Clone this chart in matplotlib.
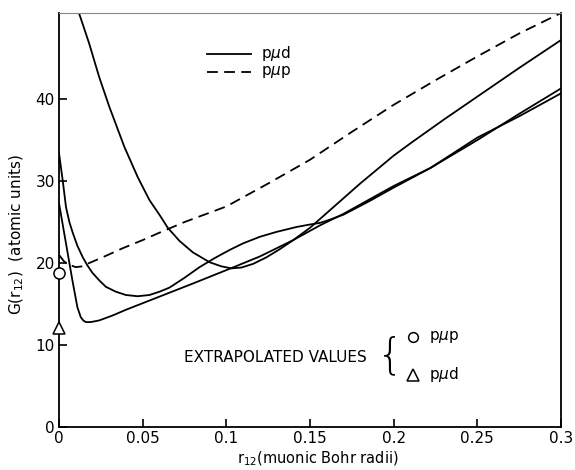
import matplotlib
matplotlib.use("Agg")
import matplotlib.pyplot as plt

# pmu p (dashed)
pmp_x = [0.0, 0.003, 0.006, 0.010, 0.014, 0.018, 0.025, 0.038, 0.05, 0.06, 0.075, 0.1, 0.125, 0.15, 0.175, 0.2, 0.225, 0.25, 0.275, 0.3]
pmp_y = [21.0, 20.2, 19.8, 19.5, 19.6, 20.0, 20.6, 21.8, 22.8, 23.7, 25.0, 26.9, 29.7, 32.6, 36.0, 39.3, 42.3, 45.2, 48.0, 50.5]

# pmu d curve A (enters from top)
a_x = [0.0121, 0.018, 0.024, 0.030, 0.039, 0.047, 0.054, 0.060, 0.065, 0.072, 0.080, 0.090, 0.097, 0.103, 0.109, 0.116, 0.124, 0.132, 0.140, 0.150, 0.160, 0.170, 0.180, 0.190, 0.200, 0.210, 0.230, 0.250, 0.275, 0.3]
a_y = [50.4, 46.8, 42.7, 39.1, 34.2, 30.5, 27.7, 25.9, 24.3, 22.7, 21.3, 20.1, 19.6, 19.35, 19.45, 19.9, 20.7, 21.7, 22.8, 24.3, 26.1, 27.9, 29.7, 31.4, 33.1, 34.6, 37.5, 40.3, 43.8, 47.2]

# pmu d curve B (minimum near 0.047, shoulder near 0.15)
b_x = [0.0, 0.0022, 0.0042, 0.0062, 0.0082, 0.011, 0.0142, 0.017, 0.020, 0.024, 0.028, 0.034, 0.040, 0.047, 0.054, 0.060, 0.066, 0.075, 0.084, 0.093, 0.102, 0.110, 0.120, 0.130, 0.142, 0.150, 0.156, 0.162, 0.170, 0.185, 0.200, 0.222, 0.250, 0.275, 0.3]
b_y = [33.4, 30.1, 26.8, 25.0, 23.7, 22.1, 20.7, 19.7, 18.8, 17.9, 17.1, 16.5, 16.1, 15.95, 16.1, 16.5, 17.0, 18.2, 19.5, 20.6, 21.6, 22.4, 23.2, 23.8, 24.4, 24.7, 24.9, 25.3, 25.9, 27.5, 29.2, 31.6, 35.0, 38.2, 41.3]

# pmu d curve C (sharp minimum near 0.016)
c_x = [0.0, 0.004, 0.008, 0.011, 0.013, 0.0145, 0.016, 0.019, 0.024, 0.032, 0.040, 0.050, 0.060, 0.080, 0.102, 0.120, 0.140, 0.156, 0.170, 0.200, 0.222, 0.250, 0.275, 0.3]
c_y = [27.3, 22.6, 17.9, 14.6, 13.4, 13.0, 12.8, 12.8, 13.0, 13.6, 14.3, 15.1, 15.9, 17.5, 19.3, 20.8, 22.8, 24.6, 26.0, 29.4, 31.6, 35.3, 37.9, 40.7]

# extrapolated values
ext_pmp = 18.8
ext_pmd = 12.1

xticks = [0, 0.05, 0.1, 0.15, 0.2, 0.25, 0.3]
xticklabels = ["0", "0.05", "0.1", "0.15", "0.2", "0.25", "0.3"]
yticks = [0, 10, 20, 30, 40]

fig = plt.figure(figsize=(5.75, 4.70), dpi=100)
ax = fig.add_axes([59/575, 1-427/470, (561-59)/575, (427-13)/470])

lw = 1.3
ax.plot(a_x, a_y, color="black", lw=lw, solid_joinstyle="round")
ax.plot(b_x, b_y, color="black", lw=lw, solid_joinstyle="round")
ax.plot(c_x, c_y, color="black", lw=lw, solid_joinstyle="round")
ax.plot(pmp_x, pmp_y, color="black", lw=lw, dashes=(6, 3.5))

ax.plot([0], [ext_pmp], marker="o", ms=8, mfc="white", mec="black", mew=1.1, clip_on=False, zorder=5)
ax.plot([0], [ext_pmd], marker="^", ms=9, mfc="white", mec="black", mew=1.1, clip_on=False, zorder=5)

ax.set_xlim(0, 0.3)
ax.set_ylim(0, 50.5)
ax.set_xticks(xticks)
ax.set_xticklabels(xticklabels)
ax.set_yticks(yticks)
ax.tick_params(direction="in", length=6, width=1.2, labelsize=11, pad=3)
for s in ax.spines.values():
    s.set_linewidth(1.3)
ax.spines["top"].set_color("#888888")
ax.spines["top"].set_linewidth(0.8)

# legend drawn by hand
ax.plot([0.0885, 0.115], [45.5, 45.5], color="black", lw=lw)
ax.plot([0.0885, 0.115], [43.3, 43.3], color="black", lw=lw, dashes=(6, 3.5))
ax.text(0.121, 45.5, r"p$\mu$d", fontsize=11, va="center", ha="left")
ax.text(0.121, 43.3, r"p$\mu$p", fontsize=11, va="center", ha="left")

# extrapolated values annotation
ax.text(0.0745, 8.5, "EXTRAPOLATED VALUES", fontsize=11, va="center", ha="left")
ax.text(0.190, 8.7, "{", fontsize=30, va="center", ha="left", fontweight="light")
ax.plot([0.2116], [11.0], marker="o", ms=7, mfc="white", mec="black", mew=1.1)
ax.plot([0.2116], [6.4], marker="^", ms=8, mfc="white", mec="black", mew=1.1)
ax.text(0.221, 11.0, r"p$\mu$p", fontsize=11, va="center", ha="left")
ax.text(0.221, 6.4, r"p$\mu$d", fontsize=11, va="center", ha="left")

fig.text(318/575, 1-459/470, r"r$_{12}$(muonic Bohr radii)", fontsize=10.5, ha="center", va="center")
fig.text(17/575, 1-235/470, r"G(r$_{12}$)  (atomic units)", fontsize=11, ha="center", va="center", rotation=90)

fig.savefig("out.png", dpi=100)
